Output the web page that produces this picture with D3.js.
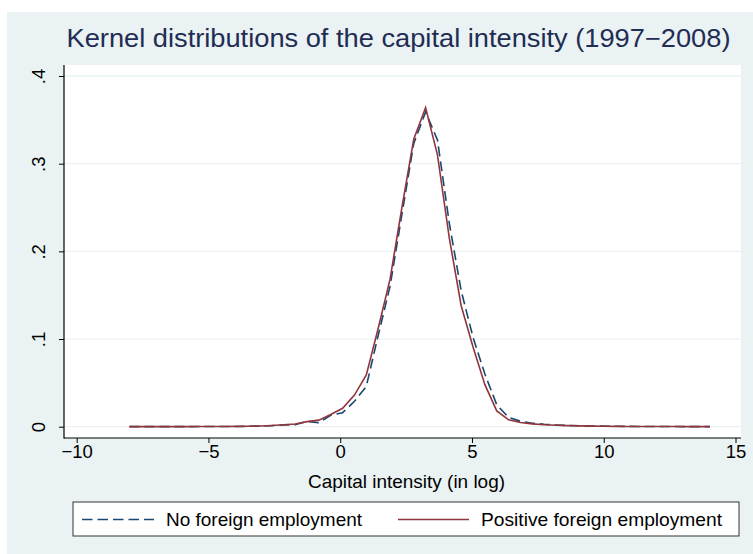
<!DOCTYPE html>
<html>
<head>
<meta charset="utf-8">
<script src="https://cdn.jsdelivr.net/npm/d3@7"></script>
<style>
  html, body { margin: 0; padding: 0; background: #ffffff; }
  svg { display: block; }
  text { font-family: "Liberation Sans", Arial, Helvetica, sans-serif; }
</style>
</head>
<body>
<svg id="chart" width="753" height="554"></svg>
<script>
// ---- data ----
const titleText = "Kernel distributions of the capital intensity (1997\u22122008)";
const xAxisTitle = "Capital intensity (in log)";
const xTicks = [-10, -5, 0, 5, 10, 15];
const yTicks = [0, 0.1, 0.2, 0.3, 0.4];
const yTickLabels = ["0", ".1", ".2", ".3", ".4"];
const seriesNames = ["No foreign employment", "Positive foreign employment"];

const xGrid = [-8.00,-7.55,-7.10,-6.65,-6.20,-5.75,-5.30,-4.85,-4.40,-3.95,
  -3.50,-3.05,-2.60,-2.15,-1.71,-1.26,-0.81,-0.36,0.09,0.54,
  0.99,1.44,1.89,2.34,2.79,3.24,3.69,4.14,4.59,5.04,
  5.49,5.94,6.39,6.84,7.29,7.74,8.19,8.64,9.09,9.54,
  9.98,10.43,10.88,11.33,11.78,12.23,12.68,13.13,13.58,14.03];

const noForeign = [0.0001,0.0001,0.0001,0.0001,0.0001,0.0001,0.0002,0.0002,0.0003,0.0003,
  0.0004,0.0007,0.0012,0.0020,0.0022,0.0060,0.0045,0.0130,0.0160,0.0290,
  0.0460,0.1040,0.1600,0.2420,0.3230,0.3590,0.3270,0.2320,0.1550,0.1020,
  0.0600,0.0250,0.0105,0.0062,0.0040,0.0028,0.0020,0.0014,0.0010,0.0008,
  0.0006,0.0005,0.0004,0.0003,0.0003,0.0002,0.0002,0.0001,0.0001,0.0001];

const positiveForeign = [0.0001,0.0001,0.0001,0.0001,0.0001,0.0001,0.0002,0.0002,0.0003,0.0004,
  0.0005,0.0008,0.0014,0.0022,0.0030,0.0058,0.0075,0.0140,0.0210,0.0360,
  0.0590,0.1120,0.1680,0.2500,0.3280,0.3640,0.3100,0.2150,0.1380,0.0910,
  0.0480,0.0180,0.0078,0.0048,0.0032,0.0022,0.0016,0.0012,0.0009,0.0007,
  0.0005,0.0004,0.0003,0.0003,0.0002,0.0002,0.0002,0.0001,0.0001,0.0001];

// ---- layout ----
const svg = d3.select("#chart");
const W = 753, H = 554;
const bgColor = "#eaf2f3";
const navy = "#1a476f";
const maroon = "#90353b";

const plot = {left: 64, right: 741, top: 65, bottom: 438};
const x = d3.scaleLinear().domain([-10, 15]).range([76.7, 735.5]);
const y = d3.scaleLinear().domain([0, 0.4]).range([426.7, 76]);

// graph region background
svg.append("rect").attr("x", 7).attr("y", 12).attr("width", W - 7).attr("height", H - 12)
  .attr("fill", bgColor);

// plot region
svg.append("rect").attr("x", plot.left).attr("y", plot.top)
  .attr("width", plot.right - plot.left).attr("height", plot.bottom - plot.top)
  .attr("fill", "#ffffff");

// gridlines
svg.append("g").selectAll("line").data(yTicks).join("line")
  .attr("x1", plot.left).attr("x2", plot.right)
  .attr("y1", d => y(d)).attr("y2", d => y(d))
  .attr("stroke", bgColor).attr("stroke-width", 1.3);

// title
svg.append("text").attr("x", 398.5).attr("y", 47)
  .attr("text-anchor", "middle").attr("font-size", 25)
  .attr("fill", "#1f2d53")
  .attr("textLength", 664).attr("lengthAdjust", "spacingAndGlyphs")
  .text(titleText);

// y axis
const yAxis = d3.axisLeft(y).tickValues(yTicks)
  .tickFormat((d, i) => yTickLabels[i]).tickSize(5).tickPadding(0);
const gy = svg.append("g").attr("transform", `translate(${plot.left},0)`).call(yAxis);
gy.select(".domain").remove();
gy.selectAll(".tick line").attr("stroke", "#000").attr("stroke-width", 1);
gy.selectAll(".tick text").remove();
gy.selectAll(".tick").append("text")
  .attr("transform", "translate(-25,0) rotate(-90)")
  .attr("text-anchor", "middle").attr("dy", "0.35em")
  .attr("fill", "#000").attr("font-size", 18.5)
  .text((d, i) => yTickLabels[i]);

// x axis
const xAxis = d3.axisBottom(x).tickValues(xTicks)
  .tickFormat(d => d < 0 ? "\u2212" + Math.abs(d) : String(d)).tickSize(5).tickPadding(2);
const gx = svg.append("g").attr("transform", `translate(0,${plot.bottom})`).call(xAxis);
gx.select(".domain").remove();
gx.selectAll(".tick line").attr("stroke", "#000").attr("stroke-width", 1);
gx.selectAll(".tick text").attr("fill", "#000").attr("font-size", 18.5)
  .attr("font-family", "Liberation Sans, Arial, sans-serif");

// axis lines
svg.append("line").attr("x1", plot.left).attr("x2", plot.left)
  .attr("y1", plot.top).attr("y2", plot.bottom + 0.5).attr("stroke", "#000").attr("stroke-width", 1.2);
svg.append("line").attr("x1", plot.left).attr("x2", plot.right)
  .attr("y1", plot.bottom).attr("y2", plot.bottom).attr("stroke", "#000").attr("stroke-width", 1.2);

// x axis title
svg.append("text").attr("x", 406.5).attr("y", 488)
  .attr("text-anchor", "middle").attr("font-size", 18.5).attr("fill", "#000")
  .attr("textLength", 197).attr("lengthAdjust", "spacingAndGlyphs")
  .text(xAxisTitle);

// lines
const line = d3.line().x(d => x(d[0])).y(d => y(d[1]));
const dataNo = xGrid.map((v, i) => [v, noForeign[i]]);
const dataPos = xGrid.map((v, i) => [v, positiveForeign[i]]);

svg.append("path").datum(dataNo).attr("d", line)
  .attr("fill", "none").attr("stroke", navy).attr("stroke-width", 1.6)
  .attr("stroke-dasharray", "10,5");
svg.append("path").datum(dataPos).attr("d", line)
  .attr("fill", "none").attr("stroke", maroon).attr("stroke-width", 1.6);

// legend
const lg = svg.append("g");
lg.append("rect").attr("x", 73).attr("y", 502).attr("width", 666).attr("height", 34)
  .attr("fill", "#fff").attr("stroke", "#333").attr("stroke-width", 1);
lg.append("line").attr("x1", 82).attr("x2", 154).attr("y1", 519.5).attr("y2", 519.5)
  .attr("stroke", navy).attr("stroke-width", 1.6).attr("stroke-dasharray", "10.5,5");
lg.append("text").attr("x", 166).attr("y", 526).attr("font-size", 18.5).attr("fill", "#000")
  .attr("textLength", 196).attr("lengthAdjust", "spacingAndGlyphs")
  .text(seriesNames[0]);
lg.append("line").attr("x1", 398).attr("x2", 469).attr("y1", 519.5).attr("y2", 519.5)
  .attr("stroke", maroon).attr("stroke-width", 1.6);
lg.append("text").attr("x", 481).attr("y", 526).attr("font-size", 18.5).attr("fill", "#000")
  .attr("textLength", 241).attr("lengthAdjust", "spacingAndGlyphs")
  .text(seriesNames[1]);
</script>
</body>
</html>
